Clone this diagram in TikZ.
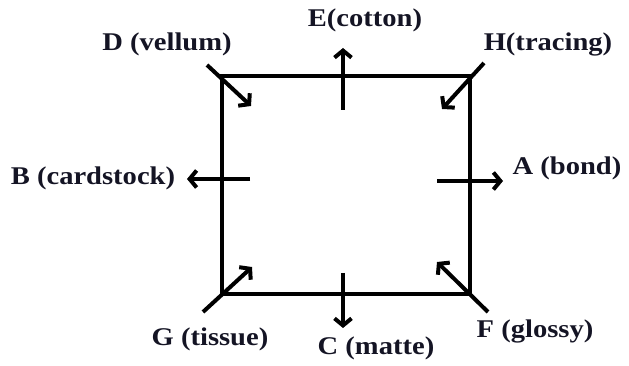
\documentclass[tikz,border=0pt]{standalone}
\usepackage{fontspec}
\setmainfont{Liberation Serif}[FakeStretch=1.12]
\usetikzlibrary{arrows.meta}
\definecolor{txt}{rgb}{0.08,0.08,0.14}
\tikzset{
  lbl/.style={font=\fontsize{25.5}{28}\selectfont\bfseries, text=txt, inner sep=0pt},
  edge/.style={line width=4pt, black},
  arr/.style={line width=4pt, black, -{Straight Barb[length=7pt,width=17pt]}}
}
\begin{document}
\begin{tikzpicture}[x=1pt,y=1pt]
\useasboundingbox (0,0) rectangle (629,366);
% square corners (y flipped: Y = 366 - y)
\coordinate (tl) at (222,290);
\coordinate (tr) at (470,290);
\coordinate (br) at (470,72);
\coordinate (bl) at (222,72);
\draw[edge, line join=miter] (tl) -- (tr) -- (br) -- (bl) -- cycle;
% arrow endpoints
\coordinate (e1) at (343,256); \coordinate (e2) at (343,318);
\coordinate (c1) at (343,93);  \coordinate (c2) at (343,38);
\coordinate (d1) at (207,301); \coordinate (d2) at (251,260);
\coordinate (h1) at (484,303); \coordinate (h2) at (442,257);
\coordinate (g1) at (203,54);  \coordinate (g2) at (252,99);
\coordinate (f1) at (488,54);  \coordinate (f2) at (437,104);
\coordinate (b1) at (250,187); \coordinate (b2) at (187,187);
\coordinate (a1) at (437,185); \coordinate (a2) at (503,185);
\draw[arr] (e1) -- (e2);
\draw[arr] (c1) -- (c2);
\draw[arr] (d1) -- (d2);
\draw[arr] (h1) -- (h2);
\draw[arr] (g1) -- (g2);
\draw[arr] (f1) -- (f2);
\draw[arr] (b1) -- (b2);
\draw[arr] (a1) -- (a2);
% labels
\node[lbl] (E) at (365,346) {E(cotton)};
\node[lbl] (D) at (167,322) {D (vellum)};
\node[lbl] (H) at (548,322) {H(tracing)};
\node[lbl] (B) at (93,188) {B (cardstock)};
\node[lbl] (A) at (567,198) {A (bond)};
\node[lbl] (G) at (210,27) {G (tissue)};
\node[lbl] (C) at (376,18) {C (matte)};
\node[lbl] (F) at (535,35) {F (glossy)};
\end{tikzpicture}
\end{document}
